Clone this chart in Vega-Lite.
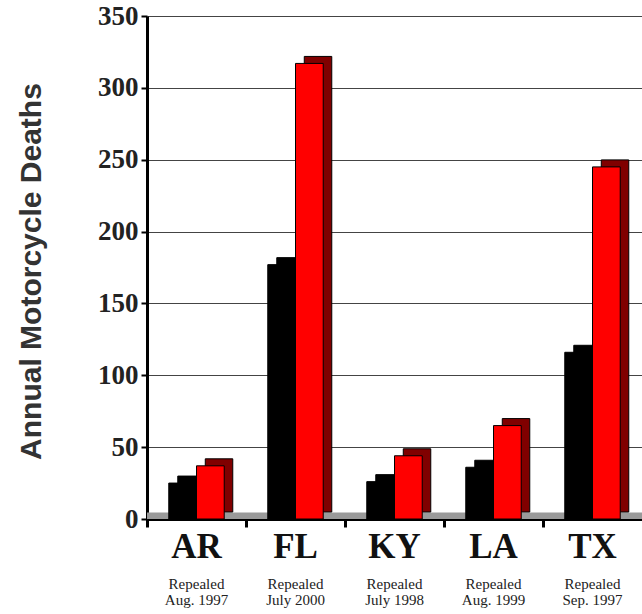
{
  "$schema": "https://vega.github.io/schema/vega-lite/v6.json",
  "autosize": {"type": "none"},
  "padding": {"left": 147, "top": 16, "right": 0, "bottom": 95},
  "width": 495,
  "height": 503,
  "config": {"view": {"stroke": null}},
  "datasets": {
    "deaths": [
      {"state": "AR", "period": "Before", "deaths": 25},
      {"state": "AR", "period": "After", "deaths": 37},
      {"state": "FL", "period": "Before", "deaths": 177},
      {"state": "FL", "period": "After", "deaths": 317},
      {"state": "KY", "period": "Before", "deaths": 26},
      {"state": "KY", "period": "After", "deaths": 44},
      {"state": "LA", "period": "Before", "deaths": 36},
      {"state": "LA", "period": "After", "deaths": 65},
      {"state": "TX", "period": "Before", "deaths": 116},
      {"state": "TX", "period": "After", "deaths": 245}
    ],
    "notes": [
      {"state": "AR", "note": "Repealed\nAug. 1997"},
      {"state": "FL", "note": "Repealed\nJuly 2000"},
      {"state": "KY", "note": "Repealed\nJuly 1998"},
      {"state": "LA", "note": "Repealed\nAug. 1999"},
      {"state": "TX", "note": "Repealed\nSep. 1997"}
    ],
    "floor": [{"bottom": 0, "top": 4.5}]
  },
  "layer": [
    {
      "data": {"name": "floor"},
      "mark": {"type": "rect", "color": "#9a9a9a"},
      "encoding": {
        "y": {"field": "bottom", "type": "quantitative"},
        "y2": {"field": "top"}
      }
    },
    {
      "data": {"name": "deaths"},
      "mark": {"type": "bar", "yOffset": -7, "stroke": "black", "strokeWidth": 1},
      "encoding": {
        "x": {
          "field": "state", "type": "nominal", "sort": null,
          "scale": {"paddingInner": 0.44, "paddingOuter": 0.22},
          "axis": {
            "orient": "bottom", "title": null, "labels": false,
            "bandPosition": -0.39, "domainColor": "black", "domainWidth": 3,
            "tickColor": "black", "tickWidth": 3, "tickSize": 8
          }
        },
        "xOffset": {"field": "period", "type": "nominal", "sort": ["Before", "After"], "scale": {"range": [9, 64]}},
        "y": {
          "field": "deaths", "type": "quantitative",
          "scale": {"domain": [0, 350]},
          "axis": {
            "title": "Annual Motorcycle Deaths",
            "values": [0, 50, 100, 150, 200, 250, 300, 350],
            "titleFont": "Liberation Sans", "titleFontSize": 30, "titleFontWeight": "bold",
            "titleColor": "#333333", "titleX": -116, "titleY": 255, "titleAngle": -90,
            "titleAlign": "center", "titleBaseline": "middle",
            "labelFont": "Liberation Serif", "labelFontSize": 27, "labelFontWeight": "bold",
            "labelColor": "#222222", "labelPadding": 3,
            "domainColor": "black", "domainWidth": 3,
            "tickColor": "black", "tickWidth": 2, "tickSize": 6,
            "grid": true, "gridColor": "#444444", "gridWidth": 1.2
          }
        },
        "color": {
          "field": "period", "type": "nominal",
          "scale": {"domain": ["Before", "After"], "range": ["#000000", "#800000"]},
          "legend": null
        }
      }
    },
    {
      "data": {"name": "deaths"},
      "mark": {"type": "bar", "stroke": "black", "strokeWidth": 1},
      "encoding": {
        "x": {
          "field": "state", "type": "nominal", "sort": null,
          "axis": {
            "orient": "bottom", "title": null, "domain": false, "ticks": false,
            "labelFont": "Liberation Serif", "labelFontSize": 35, "labelFontWeight": "bold",
            "labelColor": "#111111", "labelAngle": 0, "labelPadding": 10
          }
        },
        "xOffset": {"field": "period", "type": "nominal", "sort": ["Before", "After"]},
        "y": {"field": "deaths", "type": "quantitative"},
        "fill": {
          "field": "period", "type": "nominal",
          "scale": {"domain": ["Before", "After"], "range": ["#000000", "#ff0000"]},
          "legend": null
        }
      }
    },
    {
      "data": {"name": "notes"},
      "mark": {
        "type": "text", "font": "Liberation Serif", "fontSize": 15,
        "baseline": "top", "align": "center", "lineBreak": "\n", "lineHeight": 16,
        "yOffset": 58, "color": "#222222"
      },
      "encoding": {
        "x": {"field": "state", "type": "nominal", "sort": null, "axis": null},
        "y": {"datum": 0},
        "text": {"field": "note"}
      }
    }
  ],
  "resolve": {"axis": {"x": "independent"}, "scale": {"color": "independent", "xOffset": "independent"}}
}
